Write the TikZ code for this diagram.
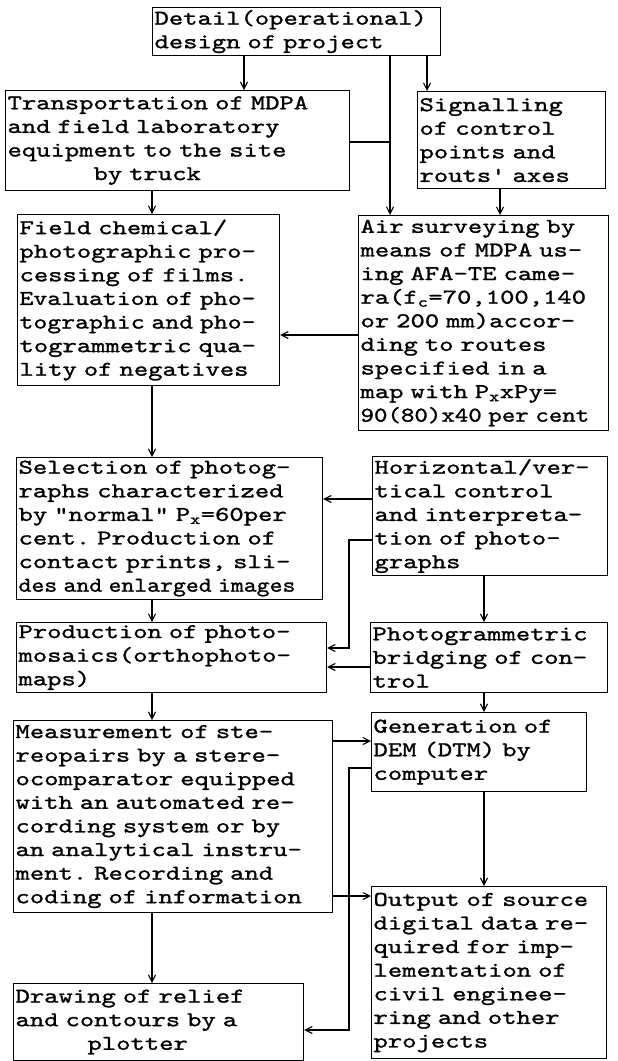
\documentclass[tikz,border=0pt]{standalone}
\usepackage{fontspec}
\usepackage{graphicx}
\usetikzlibrary{arrows.meta}
\newfontfamily\typew[FakeStretch=1.3,FakeBold=1.2]{lmmono10-regular.otf}
\newcommand{\sq}[2][0.9]{\scalebox{#1}[1]{#2}}
\newcommand{\dn}[1]{\textsubscript{#1}}

\begin{document}
\begin{tikzpicture}[x=1pt, y=-1pt, line width=1.1pt,
    >={Straight Barb[length=7pt,width=7pt]},
    box/.style={draw, anchor=north west, inner xsep=2pt, inner ysep=1pt, align=left,
      font=\typew\fontsize{21}{23.6}\selectfont\frenchspacing}]
    \useasboundingbox (0,0) rectangle (618,1061);

    % Boxes
    \node[box, text width=284pt, minimum height=48pt] (det) at (152,7) {Detail(operational)\\design of project};
    \node[box, text width=340pt, minimum height=100pt] (trans) at (5,90) {Transportation of MDPA\\and field laboratory\\equipment to the site\\\hspace*{86pt}by truck};
    \node[box, text width=184pt, minimum height=97pt] (sig) at (417,91) {Signalling\\of control\\points and\\routs' axes};
    \node[box, text width=258pt, minimum height=171pt] (field) at (17,214) {Field chemical/\\photographic pro-\\cessing of films.\\\sq[0.97]{Evaluation of pho-}\\\sq[0.97]{tographic and pho-}\\togrammetric qua-\\lity of negatives};
    \node[box, text width=246pt, minimum height=215pt] (air) at (358,215) {Air surveying by\\means of MDPA us-\\ing AFA-TE came-\\ra(f\dn{c}=70,100,140\\or 200 mm)accor-\\ding to routes\\specified in a\\map with P\dn{x}xPy=\\\sq[0.94]{90(80)x40 per cent}};
    \node[box, text width=302pt, minimum height=142pt] (sel) at (16,457) {Selection of photog-\\raphs characterized\\by "normal" P\dn{x}=60per\\cent. Production of\\contact prints, sli-\\\sq[0.9]{des and enlarged images}};
    \node[box, text width=231pt, minimum height=119pt] (hor) at (372,456) {Horizontal/ver-\\tical control\\and interpreta-\\tion of photo-\\graphs};
    \node[box, text width=306pt, minimum height=70pt] (prod) at (16,622) {Production of photo-\\mosaics(orthophoto-\\maps)};
    \node[box, text width=233pt, minimum height=70pt] (phot) at (370,622) {Photogrammetric\\bridging of con-\\trol};
    \node[box, text width=315pt, minimum height=192pt] (meas) at (13,720) {Measurement of ste-\\reopairs by a stere-\\ocomparator equipped\\with an automated re-\\cording system or by\\an analytical instru-\\ment. Recording and\\coding of information};
    \node[box, text width=211pt, minimum height=79pt] (gen) at (371,712) {Generation of\\DEM (DTM) by\\computer};
    \node[box, text width=231pt, minimum height=172pt] (out) at (371,886) {Output of source\\digital data re-\\quired for imp-\\lementation of\\civil enginee-\\ring and other\\projects};
    \node[box, text width=286pt, minimum height=77pt] (plot) at (13,983) {Drawing of relief\\and contours by a\\\hspace*{72pt}plotter};

    % Columns and rows of the connectors
    \coordinate (cA) at (244,0);
    \coordinate (cB) at (390,0);
    \coordinate (cC) at (427,0);
    \coordinate (cD) at (152,0);
    \coordinate (cE) at (500,0);
    \coordinate (cF) at (484,0);
    \coordinate (cG) at (349,0);
    \coordinate (rT) at (0,142);
    \coordinate (rAF) at (0,335);
    \coordinate (rS) at (0,499);
    \coordinate (rH) at (0,540);
    \coordinate (rP) at (0,648);
    \coordinate (rPh) at (0,667);
    \coordinate (rMg) at (0,741);
    \coordinate (rGd) at (0,768);
    \coordinate (rMo) at (0,896);
    \coordinate (rDr) at (0,1030);

    % Top
    \draw[->] (det.south -| cA) -- (trans.north -| cA);
    \draw[->] (det.south -| cB) -- (air.north -| cB);
    \draw[->] (det.south -| cC) -- (sig.north -| cC);
    \draw (trans.east |- rT) -- (cB |- rT);
    \draw[->] (sig.south -| cE) -- (air.north -| cE);
    \draw[->] (air.west |- rAF) -- (field.east |- rAF);

    % Left column
    \foreach \a/\b in {trans/field, field/sel, sel/prod, prod/meas, meas/plot} {
        \draw[->] (\a.south -| cD) -- (\b.north -| cD);
    }

    % Right column
    \foreach \a/\b in {hor/phot, phot/gen, gen/out} {
        \draw[->] (\a.south -| cF) -- (\b.north -| cF);
    }

    % Across
    \draw[->] (hor.west |- rS) -- (sel.east |- rS);
    \draw[->] (hor.west |- rH) -- (cG |- rH) -- (cG |- rP) -- (prod.east |- rP);
    \draw[->] (phot.west |- rPh) -- (prod.east |- rPh);
    \draw[->] (meas.east |- rMg) -- (gen.west |- rMg);
    \draw[->] (gen.west |- rGd) -- (cG |- rGd) -- (cG |- rDr) -- (plot.east |- rDr);
    \draw[->] (meas.east |- rMo) -- (out.west |- rMo);
\end{tikzpicture}
\end{document}
